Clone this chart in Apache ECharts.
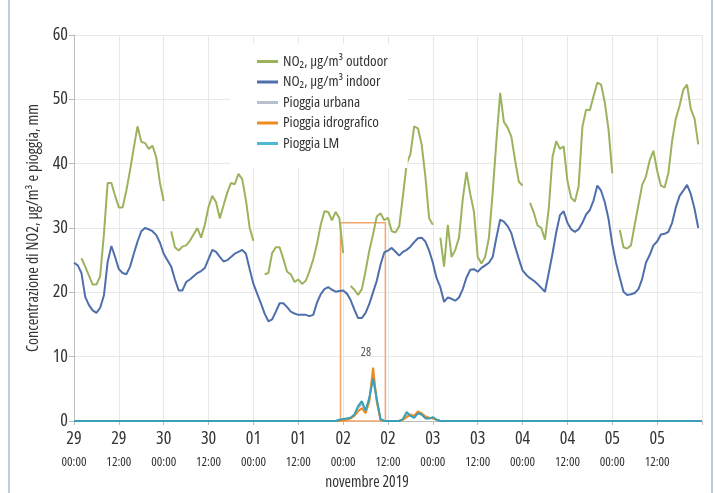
<!DOCTYPE html>
<html>
<head>
<meta charset="utf-8">
<script src="https://cdn.jsdelivr.net/npm/echarts@6/dist/echarts.min.js"></script>
<style>
  html, body { margin: 0; padding: 0; background: #fff; }
  #chart { width: 715px; height: 493px; }
</style>
</head>
<body>
<div id="chart"></div>
<script>
// Hourly NO2 readings, 29 Oct 2019 00:00 onwards (index = hours since start), µg/m³; null = missing
const no2Outdoor = [
  null, null, 25.3, 24.0, 22.6, 21.2, 21.2, 22.5, 29.0, 37.0,
  37.0, 35.0, 33.2, 33.2, 35.8, 39.0, 42.5, 45.8, 43.4, 43.2,
  42.3, 42.8, 41.0, 37.0, 34.2, null, 29.5, 27.0, 26.5, 27.1,
  27.3, 28.0, 29.0, 30.0, 28.5, 30.5, 33.3, 35.0, 34.0, 31.5,
  33.5, 35.5, 37.0, 36.8, 38.4, 37.6, 34.3, 30.0, 28.0, null,
  null, 22.8, 23.0, 26.1, 27.0, 27.0, 25.2, 23.2, 22.8, 21.6,
  22.0, 21.3, 21.8, 23.3, 25.1, 27.5, 30.5, 32.6, 32.5, 31.2,
  32.5, 31.5, 26.1, null, 21.0, 20.4, 19.6, 20.5, 23.3, 26.5,
  29.0, 31.8, 32.3, 31.2, 31.6, 29.5, 29.3, 30.3, 35.0, 40.0,
  41.5, 45.8, 45.5, 43.0, 38.0, 31.5, 30.5, null, 28.5, 24.0,
  30.5, 25.5, 26.6, 28.5, 34.5, 38.7, 35.3, 32.5, 25.5, 24.5,
  25.5, 28.5, 35.5, 43.5, 51.0, 46.5, 45.6, 44.2, 40.5, 37.2,
  36.6, null, 33.9, 32.4, 30.4, 30.0, 28.2, 33.0, 41.0, 43.5,
  42.3, 42.7, 37.3, 34.7, 34.1, 36.5, 45.7, 48.4, 48.3, 50.5,
  52.6, 52.3, 49.5, 45.3, 38.5, null, 29.7, 27.0, 26.8, 27.3,
  30.5, 33.6, 36.7, 38.0, 40.5, 42.0, 38.9, 36.6, 36.3, 38.5,
  43.5, 47.0, 49.0, 51.5, 52.3, 48.5, 47.0, 43.0
];
const no2Indoor = [
  24.6, 24.2, 23.0, 19.3, 18.0, 17.2, 16.8, 17.6, 19.5, 24.7,
  27.2, 25.5, 23.6, 23.0, 22.8, 24.0, 26.0, 27.9, 29.5, 30.0,
  29.8, 29.5, 28.9, 27.7, 26.0, 25.0, 24.0, 22.0, 20.3, 20.3,
  21.6, 22.0, 22.5, 23.0, 23.3, 23.8, 25.2, 26.6, 26.3, 25.5,
  24.8, 25.0, 25.5, 26.0, 26.3, 26.6, 26.0, 23.6, 21.3, 19.8,
  18.3, 16.7, 15.5, 15.8, 17.0, 18.3, 18.3, 17.7, 17.0, 16.7,
  16.5, 16.5, 16.5, 16.3, 16.5, 18.4, 19.7, 20.5, 20.8, 20.4,
  20.1, 20.2, 20.3, 19.8, 18.8, 17.3, 16.0, 16.0, 16.8, 18.2,
  20.0, 21.8, 24.3, 26.2, 26.5, 26.9, 26.3, 25.7, 26.3, 26.6,
  27.1, 27.8, 28.4, 28.5, 27.9, 26.5, 24.6, 22.2, 20.8, 18.5,
  19.2, 19.0, 18.7, 19.2, 20.5, 22.3, 23.5, 23.6, 23.2, 23.8,
  24.2, 24.6, 25.5, 28.5, 31.3, 31.0, 30.3, 29.2, 27.1, 25.2,
  23.4, 22.7, 22.2, 21.8, 21.3, 20.7, 20.1, 23.0, 26.0, 29.3,
  32.0, 32.6, 30.8, 29.8, 29.4, 29.8, 30.8, 32.1, 32.8, 34.3,
  36.6, 35.8, 34.0, 31.4, 27.5, 24.6, 22.3, 20.1, 19.6, 19.7,
  19.9, 20.5, 22.1, 24.6, 25.8, 27.3, 27.9, 29.0, 29.1, 29.4,
  30.8, 33.2, 35.0, 35.8, 36.7, 35.3, 33.0, 30.0
];

// Rain gauges, mm per hour; hours not listed are dry (0 mm)
const rainHours   = [0, 70, 71, 72, 73, 74, 75, 76, 77, 78, 79, 80, 81, 82, 83, 87, 88, 89, 90, 91, 92, 93, 94, 95, 96, 97, 98, 168];
const rainUrbana  = [0, 0, 0.1, 0.2, 0.3, 0.5, 0.9, 2.0, 2.7, 1.5, 3.4, 7.2, 3.2, 0.2, 0, 0, 0.2, 1.0, 0.8, 0.6, 1.2, 1.0, 0.5, 0.4, 0.5, 0.2, 0, 0];
const rainIdro    = [0, 0, 0, 0.1, 0.2, 0.4, 0.8, 1.5, 2.0, 1.2, 3.0, 8.3, 3.0, 0.2, 0, 0, 0.2, 0.6, 1.0, 0.8, 1.5, 1.2, 0.7, 0.5, 0.4, 0.2, 0, 0];
const rainLM      = [0, 0, 0.2, 0.3, 0.4, 0.5, 1.0, 2.3, 3.1, 1.6, 3.6, 6.6, 3.4, 0.3, 0, 0, 0.3, 1.4, 0.8, 0.5, 1.2, 1.0, 0.4, 0.4, 0.6, 0.2, 0, 0];

// Rain event on 2 Nov: highlighted window (hours) and its cumulative total (mm)
const eventWindow = [71.3, 83.3];
const eventTop = 30.8;
const rainEventTotal = 28;
const eventLabelAt = [78.1, 10.6];

// Axis tick labels every 12 hours
const dayTicks  = ['29', '29', '30', '30', '01', '01', '02', '02', '03', '03', '04', '04', '05', '05'];
const hourTicks = ['00:00', '12:00', '00:00', '12:00', '00:00', '12:00', '00:00', '12:00', '00:00', '12:00', '00:00', '12:00', '00:00', '12:00'];

// Narrow lettering: ask for the condensed width of the face where one exists
const FONT = '"Open Sans", "Noto Sans", "DejaVu Sans", sans-serif';
const STRETCH = 'condensed';
const txt = (size, extra) => Object.assign({ fontFamily: FONT, fontStyle: STRETCH, fontSize: size, color: '#333' }, extra || {});

const hourly = arr => arr.map((v, i) => [i, v]);
const sparse = vals => rainHours.map((h, i) => [h, vals[i]]);

const chart = echarts.init(document.getElementById('chart'));

chart.setOption({
  animation: false,
  backgroundColor: '#fff',
  textStyle: { fontFamily: FONT, fontStyle: STRETCH },
  grid: { left: 74, right: 13, top: 35, bottom: 72, containLabel: false, outerBoundsMode: 'none' },
  legend: {
    orient: 'vertical',
    left: 230,
    top: 44,
    padding: [9, 20, 16, 27],
    backgroundColor: '#ffffff',
    itemWidth: 21,
    itemHeight: 3,
    itemGap: 3.5,
    icon: 'rect',
    textStyle: txt(15, { lineHeight: 17 }),
    data: ['NO₂, µg/m³ outdoor', 'NO₂, µg/m³ indoor', 'Pioggia urbana', 'Pioggia idrografico', 'Pioggia LM']
  },
  xAxis: {
    type: 'value',
    min: 0,
    max: 168,
    interval: 12,
    name: 'novembre 2019',
    nameLocation: 'middle',
    nameGap: 54,
    nameTextStyle: txt(15.5, { padding: [0, 42, 0, 0] }),
    axisLine: { show: true, lineStyle: { color: '#bdbdbd' } },
    axisTick: { show: true, length: 4, lineStyle: { color: '#bdbdbd' } },
    splitLine: { show: true, lineStyle: { color: '#e8e8e8', width: 1 } },
    axisLabel: {
      margin: 7,
      formatter: v => {
        const i = Math.round(v / 12);
        if (i >= dayTicks.length) return '';
        return '{d|' + dayTicks[i] + '}\n{h|' + hourTicks[i] + '}';
      },
      rich: {
        d: txt(18, { lineHeight: 22 }),
        h: txt(13, { lineHeight: 24 })
      }
    }
  },
  yAxis: {
    type: 'value',
    min: 0,
    max: 60,
    interval: 10,
    name: 'Concentrazione di NO2, µg/m³ e pioggia, mm',
    nameLocation: 'middle',
    nameRotate: 90,
    nameGap: 31,
    nameTextStyle: txt(16),
    axisLine: { show: true, lineStyle: { color: '#bdbdbd' } },
    axisTick: { show: true, length: 5, lineStyle: { color: '#bdbdbd' } },
    splitLine: { show: true, lineStyle: { color: '#e8e8e8', width: 1 } },
    axisLabel: txt(18, { margin: 6 })
  },
  series: [
    {
      name: 'NO₂, µg/m³ outdoor',
      type: 'line',
      data: hourly(no2Outdoor),
      showSymbol: false,
      connectNulls: false,
      color: '#9cb35e',
      lineStyle: { width: 2, color: '#9cb35e' },
      z: 3
    },
    {
      name: 'NO₂, µg/m³ indoor',
      type: 'line',
      data: hourly(no2Indoor),
      showSymbol: false,
      color: '#4e6fab',
      lineStyle: { width: 2, color: '#4e6fab' },
      z: 3
    },
    {
      name: 'Pioggia urbana',
      type: 'line',
      data: sparse(rainUrbana),
      showSymbol: false,
      color: '#b7c1cc',
      lineStyle: { width: 2, color: '#b7c1cc' },
      z: 2
    },
    {
      name: 'Pioggia idrografico',
      type: 'line',
      data: sparse(rainIdro),
      showSymbol: false,
      color: '#ef8a1f',
      lineStyle: { width: 2, color: '#ef8a1f' },
      z: 2,
      markPoint: {
        silent: true,
        symbol: 'circle',
        symbolSize: 0,
        data: [{ coord: eventLabelAt, value: rainEventTotal }],
        label: txt(12, {
          show: true,
          position: 'inside',
          formatter: String(rainEventTotal),
          color: '#555'
        })
      }
    },
    {
      name: 'Pioggia LM',
      type: 'line',
      data: sparse(rainLM),
      showSymbol: false,
      color: '#4fb8d8',
      lineStyle: { width: 2, color: '#3a9fb8' },
      z: 2,
      markArea: {
        silent: true,
        itemStyle: { color: 'rgba(0,0,0,0)', borderColor: '#f1a66c', borderWidth: 1.5 },
        data: [[{ coord: [eventWindow[0], eventTop] }, { coord: [eventWindow[1], 0] }]]
      }
    }
  ],
  graphic: [
    {
      type: 'rect',
      silent: true,
      shape: { x: 9, y: -4, width: 703, height: 501 },
      style: { fill: 'none', stroke: '#9dc1dd', lineWidth: 1.5 },
      z: 100
    }
  ]
});
</script>
</body>
</html>
